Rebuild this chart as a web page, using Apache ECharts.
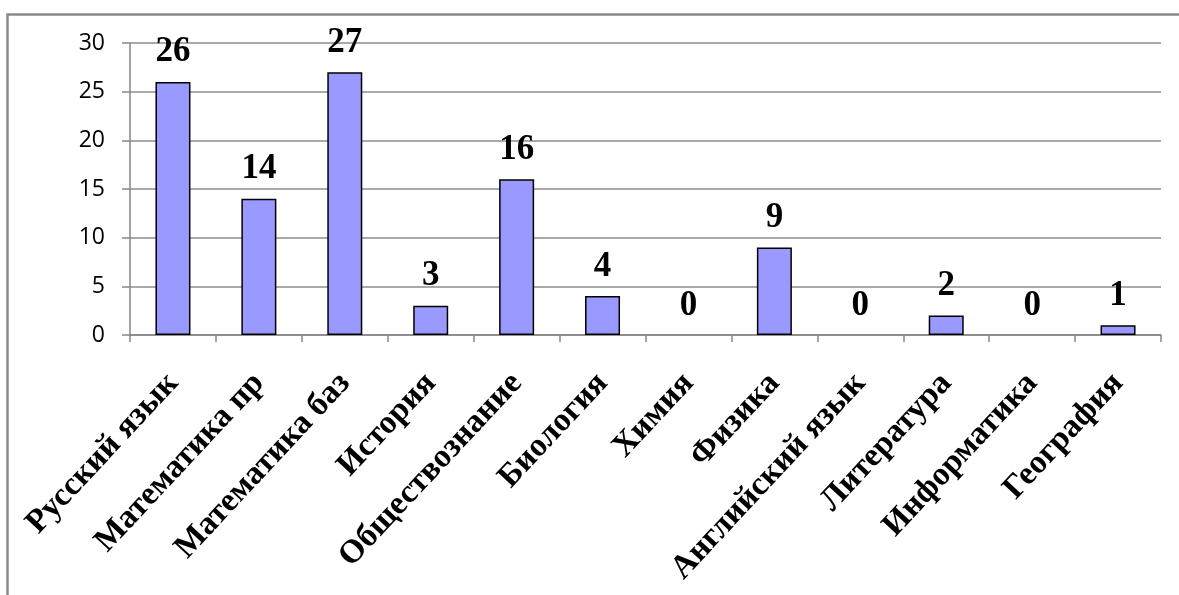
<!DOCTYPE html>
<html>
<head>
<meta charset="utf-8">
<script src="https://cdn.jsdelivr.net/npm/echarts@6/dist/echarts.min.js"></script>
<style>html,body{margin:0;padding:0;background:#fff;}#c{width:1179px;height:595px;}</style>
</head>
<body>
<div id="c"></div>
<script>
const categories = ['Русский язык','Математика пр','Математика баз','История','Обществознание','Биология','Химия','Физика','Английский язык','Литература','Информатика','География'];
const values = [26,14,27,3,16,4,0,9,0,2,0,1];
const yTicks = [0,5,10,15,20,25,30];

const barData = values.map(v => v === 0 ? { value: v, itemStyle: { borderWidth: 0 } } : v);

const chart = echarts.init(document.getElementById('c'));
chart.setOption({
  animation: false,
  graphic: [{
    type: 'rect',
    shape: { x: 7.5, y: 14.5, width: 1300, height: 800 },
    style: { fill: 'none', stroke: '#8a8a8a', lineWidth: 2.5 }, silent: true, z: -1
  }],
  grid: { left: 130, right: 18, top: 43, bottom: 260 },
  xAxis: {
    type: 'category', data: categories,
    axisLine: { lineStyle: { color: '#868686', width: 1.5 } },
    axisTick: { show: true, length: 7, lineStyle: { color: '#868686', width: 1.5 } },
    axisLabel: { rotate: 47, margin: 43, interval: 0, color: '#000', fontFamily: 'Liberation Serif', fontWeight: 'bold', fontSize: 33 }
  },
  yAxis: {
    type: 'value', min: yTicks[0], max: yTicks[yTicks.length-1], interval: 5,
    axisLine: { show: true, lineStyle: { color: '#868686', width: 1.5 } },
    axisTick: { show: true, length: 8, lineStyle: { color: '#868686', width: 1.5 } },
    splitLine: { lineStyle: { color: '#8c8c8c', width: 1.5 } },
    axisLabel: { color: '#000', fontFamily: 'Open Sans', fontSize: 23, margin: 25 }
  },
  series: [{
    type: 'bar', data: barData, barWidth: 35,
    itemStyle: { color: '#9999FF', borderColor: '#000', borderWidth: 1.5 },
    label: { show: true, position: 'top', distance: 12, color: '#000', fontFamily: 'Liberation Serif', fontWeight: 'bold', fontSize: 35 }
  }]
});
</script>
</body>
</html>
